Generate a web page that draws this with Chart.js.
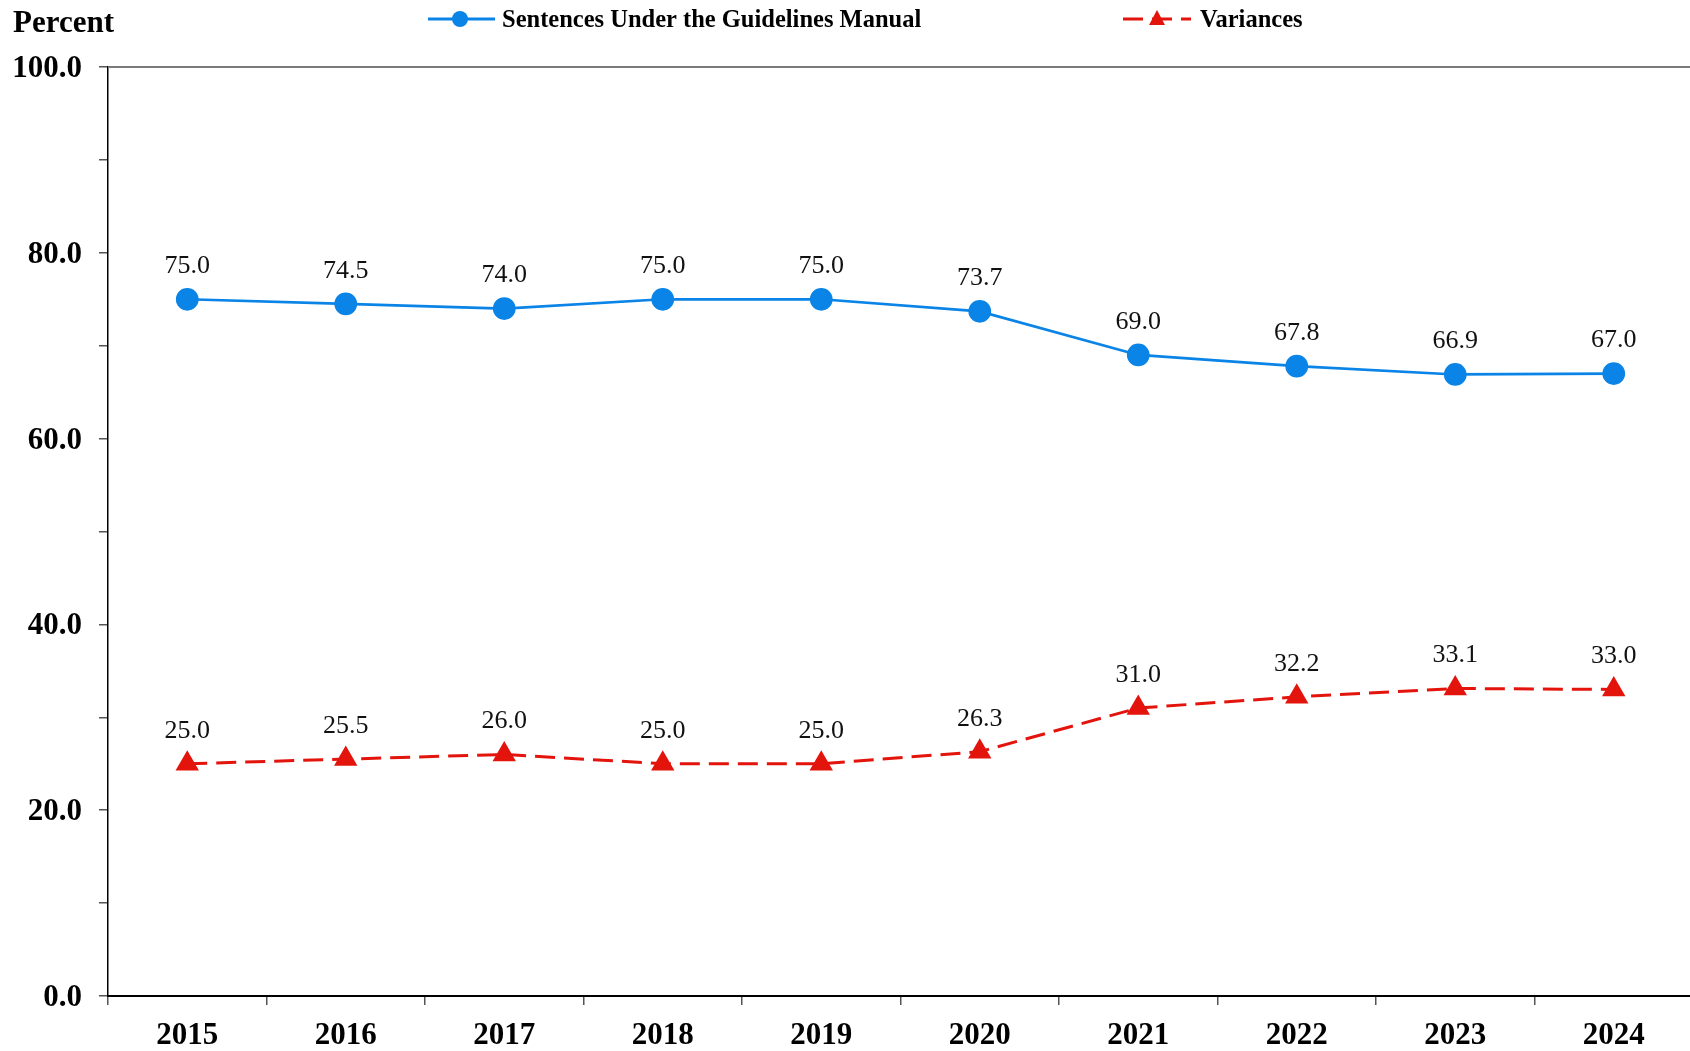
<!DOCTYPE html>
<html>
<head>
<meta charset="utf-8">
<script src="https://cdn.jsdelivr.net/npm/chart.js@4.4.1/dist/chart.umd.min.js"></script>
<style>
html,body{margin:0;padding:0;background:#fff;overflow:hidden;}
canvas{display:block;}
</style>
</head>
<body>
<canvas id="c" width="1693" height="1051"></canvas>
<script>
const years = ['2015','2016','2017','2018','2019','2020','2021','2022','2023','2024'];
const guidelines = [75.0, 74.5, 74.0, 75.0, 75.0, 73.7, 69.0, 67.8, 66.9, 67.0];
const variances = [25.0, 25.5, 26.0, 25.0, 25.0, 26.3, 31.0, 32.2, 33.1, 33.0];
const seriesNames = ['Sentences Under the Guidelines Manual', 'Variances'];
const yTitle = 'Percent';

const BLUE = '#0A84E6';
const RED = '#E3140C';
const SERIF = '"Liberation Serif", "Times New Roman", serif';

const extras = {
  id: 'extras',
  beforeDatasetsDraw(chart) {
    const {ctx, chartArea} = chart;
    ctx.save();
    ctx.strokeStyle = '#7a7a7a';
    ctx.lineWidth = 2;
    ctx.beginPath();
    ctx.moveTo(chartArea.left, chartArea.top);
    ctx.lineTo(chartArea.right, chartArea.top);
    ctx.stroke();
    ctx.restore();
  },
  afterDatasetsDraw(chart) {
    const {ctx} = chart;
    ctx.save();
    // data labels
    ctx.font = '26px ' + SERIF;
    ctx.fillStyle = '#111';
    ctx.textAlign = 'center';
    ctx.textBaseline = 'middle';
    chart.data.datasets.forEach((ds, di) => {
      const meta = chart.getDatasetMeta(di);
      meta.data.forEach((pt, i) => {
        ctx.fillText(ds.data[i].toFixed(1), pt.x, pt.y - 33);
      });
    });
    // y title
    ctx.font = 'bold 31px ' + SERIF;
    ctx.textAlign = 'left';
    ctx.fillStyle = '#000';
    ctx.fillText(yTitle, 13, 24);
    // legend
    const items = [
      {x0: 428, x1: 495, mx: 460, tx: 502, ds: 0},
      {x0: 1123, x1: 1191, mx: 1157, tx: 1200, ds: 1}
    ];
    const ly = 19;
    items.forEach(it => {
      const ds = chart.data.datasets[it.ds];
      ctx.strokeStyle = ds.borderColor;
      ctx.lineWidth = 3;
      ctx.setLineDash(ds.borderDash || []);
      ctx.beginPath();
      ctx.moveTo(it.x0, ly);
      ctx.lineTo(it.x1, ly);
      ctx.stroke();
      ctx.setLineDash([]);
      ctx.fillStyle = ds.pointBackgroundColor;
      if (ds.pointStyle === 'triangle') {
        ctx.beginPath();
        ctx.moveTo(it.mx, ly - 9);
        ctx.lineTo(it.mx + 8, ly + 6);
        ctx.lineTo(it.mx - 8, ly + 6);
        ctx.closePath();
        ctx.fill();
      } else {
        ctx.beginPath();
        ctx.arc(it.mx, ly, 8, 0, Math.PI * 2);
        ctx.fill();
      }
      ctx.fillStyle = '#000';
      ctx.font = 'bold 24.5px ' + SERIF;
      ctx.textAlign = 'left';
      ctx.textBaseline = 'middle';
      ctx.fillText(seriesNames[it.ds], it.tx, ly + 1.5);
    });
    ctx.restore();
  }
};

new Chart(document.getElementById('c'), {
  type: 'line',
  data: {
    labels: years,
    datasets: [
      {
        label: seriesNames[0],
        data: guidelines,
        borderColor: BLUE,
        backgroundColor: BLUE,
        pointBackgroundColor: BLUE,
        pointBorderColor: BLUE,
        pointStyle: 'circle',
        pointRadius: 10,
        borderWidth: 2.75,
        tension: 0
      },
      {
        label: seriesNames[1],
        data: variances,
        borderColor: RED,
        backgroundColor: RED,
        pointBackgroundColor: RED,
        pointBorderColor: RED,
        pointStyle: 'triangle',
        pointRadius: 10.5,
        borderWidth: 3,
        borderDash: [20, 9],
        tension: 0
      }
    ]
  },
  options: {
    responsive: false,
    animation: false,
    layout: {autoPadding: false, padding: {top: 67, right: 0, left: 0, bottom: 0}},
    plugins: {legend: {display: false}, tooltip: {enabled: false}, title: {display: false}},
    scales: {
      x: {
        offset: true,
        grid: {offset: true, drawOnChartArea: false, drawTicks: true, tickLength: 9, color: '#555', lineWidth: 1.5},
        border: {display: true, color: '#000', width: 2},
        ticks: {font: {family: SERIF, size: 31, weight: 'bold'}, color: '#000', padding: 12, maxRotation: 0},
        afterFit(s) { s.height = 55; }
      },
      y: {
        min: 0, max: 100,
        grid: {drawOnChartArea: false, drawTicks: true, tickLength: 9, color: '#555', lineWidth: 1.5},
        border: {display: true, color: '#000', width: 1.5},
        ticks: {
          stepSize: 10,
          font: {family: SERIF, size: 31, weight: 'bold'},
          color: '#000',
          padding: 17,
          labelOffset: 2,
          callback: v => (v % 20 === 0 ? v.toFixed(1) : '')
        },
        afterFit(s) { s.width = 108; }
      }
    }
  },
  plugins: [extras]
});
</script>
</body>
</html>
